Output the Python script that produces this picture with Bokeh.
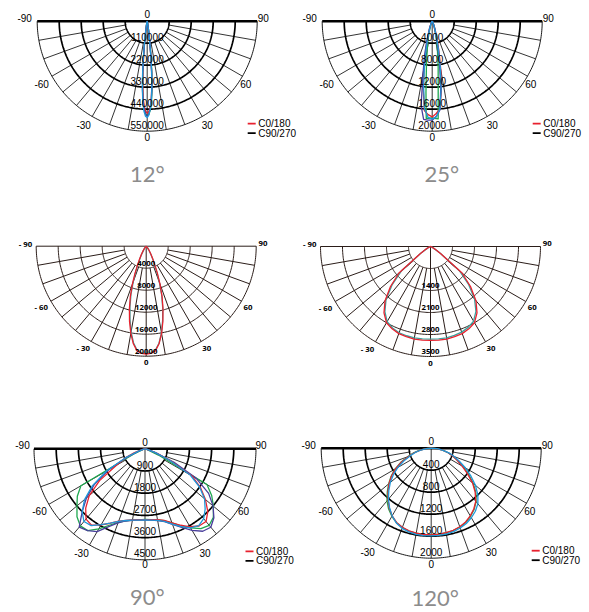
import numpy as np
from bokeh.plotting import figure
from bokeh.models import Range1d
from bokeh.embed import file_html
from bokeh.resources import INLINE
from bokeh.core.properties import value

# ---------------- data (intensity, cd, vs angle in degrees) ----------------
# 12 deg beam
ANG12 = [-90, -30, -20, -15, -10, -8, -7, -6, -5, -4, -3, -2, -1, 0,
         1, 2, 3, 4, 5, 6, 7, 8, 10, 15, 20, 30, 90]
I12_GREEN = [0, 350, 1500, 5200, 23000, 62000, 105000, 172000, 250000, 330000, 395000, 438000, 462000, 470000,
             465000, 445000, 405000, 345000, 270000, 185000, 115000, 66000, 25000, 5500, 2000, 450, 0]
I12_RED = [0, 400, 1600, 5000, 22000, 58000, 100000, 165000, 245000, 320000, 385000, 425000, 450000, 460000,
           452000, 428000, 390000, 330000, 255000, 175000, 110000, 62000, 24000, 5500, 1900, 400, 0]
I12_BLUE = [0, 400, 1800, 6000, 25000, 65000, 110000, 180000, 260000, 340000, 400000, 440000, 465000, 475000,
            465000, 435000, 395000, 330000, 250000, 170000, 105000, 60000, 22000, 5000, 1800, 400, 0]
I12_CYAN = [0, 420, 1900, 6200, 26000, 68000, 115000, 185000, 265000, 345000, 410000, 452000, 475000, 482000,
            470000, 440000, 398000, 335000, 255000, 172000, 106000, 61000, 22000, 5000, 1700, 380, 0]
RING12 = ["110000", "220000", "330000", "440000", "550000"]

# 25 deg beam
ANG25 = [-90, -40, -30, -25, -20, -15, -12.5, -10, -7.5, -5, -2.5, 0,
         2.5, 5, 7.5, 10, 12.5, 15, 20, 25, 30, 40, 90]
ANG25_GREEN = [-90, -40, -30, -25, -20, -15, -12.5, -10, -7.5, -5, -3.5, 0,
               3.5, 5, 7.5, 10, 12.5, 15, 20, 25, 30, 40, 90]
I25_GREEN = [0, 50, 200, 400, 900, 2200, 3500, 5200, 8000, 13000, 17700, 17600,
             17800, 12500, 8300, 5500, 3800, 2400, 1000, 400, 200, 50, 0]
I25_RED = [0, 100, 300, 600, 1400, 3500, 5500, 8500, 12500, 16300, 17000, 17400,
           16800, 16000, 12800, 9000, 5800, 3600, 1500, 600, 300, 80, 0]
I25_BLUE = [0, 50, 300, 600, 1500, 4000, 6500, 9500, 15500, 17900, 18000, 18000,
            17300, 16200, 12000, 7500, 4500, 2500, 1000, 400, 200, 50, 0]
I25_CYAN = [0, 60, 250, 500, 1200, 3000, 5000, 8000, 12000, 16000, 17500, 17800,
            17400, 16000, 12500, 8500, 5200, 3200, 1300, 500, 250, 60, 0]
RING25 = ["4000", "8000", "12000", "16000", "20000"]

# middle-left beam
ANG_ML = [-90, -50, -40, -35, -30, -27.5, -25, -22.5, -20, -17.5, -15, -12.5, -10, -7.5, -5, -2.5, 0,
          2.5, 5, 7.5, 10, 12.5, 15, 17.5, 20, 22.5, 25, 27.5, 30, 35, 40, 50, 90]
IML_RED = [0, 100, 400, 900, 1800, 2600, 3600, 5300, 7300, 9600, 11800, 14000, 16100, 17900, 19100, 19500, 19600,
           19500, 19100, 17900, 16100, 14000, 11800, 9600, 7300, 5300, 3600, 2600, 1800, 900, 400, 100, 0]
IML_TEAL = [0, 80, 300, 700, 1500, 2300, 3200, 4900, 6900, 9200, 11400, 13600, 15800, 17700, 19000, 19400, 19500,
            19400, 19000, 17800, 16000, 13800, 11600, 9400, 7000, 5000, 3300, 2400, 1600, 750, 320, 80, 0]
RING_ML = ["4000", "8000", "12000", "16000", "20000"]

# 5-degree grid used by the wide beams
ANG5 = [-90, -85, -80, -75, -70, -65, -60, -55, -50, -45, -40, -35, -30, -25, -20, -15, -10, -5, 0,
        5, 10, 15, 20, 25, 30, 35, 40, 45, 50, 55, 60, 65, 70, 75, 80, 85, 90]

# middle-right beam
IMR_RED = [0, 0, 0, 10, 30, 60, 150, 400, 1300, 1800, 2250, 2580, 2800, 2890, 2950, 2970, 2990, 2990, 2990,
           2990, 2990, 2970, 2950, 2890, 2800, 2580, 2250, 1800, 1300, 400, 150, 60, 30, 10, 0, 0, 0]
IMR_TEAL = [0, 0, 0, 10, 30, 50, 120, 380, 1200, 1730, 2200, 2530, 2760, 2860, 2920, 2940, 2950, 2950, 2950,
            2950, 2950, 2930, 2900, 2840, 2740, 2520, 2180, 1720, 1200, 380, 120, 50, 30, 10, 0, 0, 0]
RING_MR = ["", "1400", "2100", "2800", "3500"]

# 90 deg beam
I90_GREEN = [0, 0, 0, 0, 100, 500, 3000, 3350, 3600, 3900, 4080, 4050, 3750, 3420, 3170, 3020, 2940, 2890, 2860,
             2880, 2930, 3020, 3200, 3450, 3700, 3950, 4050, 3920, 3620, 3300, 2900, 600, 100, 0, 0, 0, 0]
I90_PURPLE = [0, 0, 0, 50, 250, 800, 1700, 2500, 3100, 3600, 4150, 4050, 3880, 3480, 3200, 3030, 2950, 2900, 2880,
              2900, 2960, 3060, 3260, 3520, 3820, 4080, 4150, 3950, 3600, 3150, 2400, 1300, 400, 80, 0, 0, 0]
I90_RED = [0, 0, 30, 150, 450, 900, 1350, 2250, 2950, 3400, 3720, 3780, 3560, 3330, 3120, 3000, 2930, 2890, 2870,
           2880, 2920, 3000, 3200, 3420, 3650, 3820, 3850, 3600, 3200, 2750, 2200, 1150, 500, 150, 30, 0, 0]
I90_CYAN = [0, 0, 0, 80, 300, 900, 1800, 2600, 3200, 3600, 3850, 3800, 3550, 3320, 3130, 3010, 2940, 2900, 2880,
            2900, 2950, 3050, 3250, 3480, 3700, 3800, 3700, 3450, 3150, 2700, 2100, 1100, 450, 120, 20, 0, 0]
RING90 = ["900", "1800", "2700", "3600", "4500"]

# 120 deg beam
I120_GREEN = [0, 100, 210, 330, 450, 610, 760, 890, 1010, 1130, 1250, 1350, 1430, 1495, 1535, 1560, 1570, 1575, 1575,
              1570, 1565, 1550, 1525, 1490, 1430, 1360, 1270, 1150, 1000, 830, 670, 530, 420, 320, 210, 100, 0]
I120_RED = [0, 100, 200, 320, 440, 600, 750, 880, 1000, 1110, 1220, 1330, 1420, 1490, 1530, 1555, 1570, 1575, 1575,
            1570, 1560, 1545, 1520, 1480, 1420, 1350, 1260, 1130, 980, 800, 650, 520, 420, 320, 210, 100, 0]
I120_CYAN = [0, 90, 190, 300, 410, 550, 700, 840, 970, 1090, 1210, 1320, 1420, 1500, 1550, 1575, 1590, 1595, 1595,
             1590, 1585, 1570, 1545, 1510, 1460, 1400, 1320, 1200, 1050, 880, 720, 570, 450, 340, 220, 110, 0]
RING120 = ["400", "800", "1200", "1600", "2000"]

TITLES = ["12°", "25°", "90°", "120°"]
LEGEND = ["C0/180", "C90/270"]

# ---------------- style ----------------
RED = "#e8212e"
GREEN = "#1fa84f"
PURPLE = "#4a3f9c"
CYAN = "#1f97d9"
TEAL = "#3aa39f"
FONT_A = value("Liberation Sans")
FONT_B = value("Open Sans")

W, H = 588, 611
p = figure(width=W, height=H, output_backend="svg", toolbar_location=None,
           x_range=Range1d(0, W), y_range=Range1d(H, 0),
           x_axis_location=None, y_axis_location=None, min_border=0,
           background_fill_color="white", border_fill_color="white")
p.grid.visible = False
p.outline_line_color = None


def polar(cx, cy, R, vmax, ang, vals):
    th = np.radians(np.asarray(ang, dtype=float))
    r = np.asarray(vals, dtype=float) / vmax * R
    return cx + r * np.sin(th), cy + r * np.cos(th)


def draw_grid(cx, cy, R, style):
    if style == "a":
        col, ring_w, rad_w, top_w = "#000000", [1.7, 1.7, 1.7, 1.7, 0.9], 0.8, 2.4
    else:
        col, ring_w, rad_w, top_w = "#2b1d19", [1.0] * 5, 1.0, 1.0
    t = np.radians(np.linspace(-90, 90, 181))
    for k in range(1, 6):
        r = R * k / 5
        p.line(cx + r * np.sin(t), cy + r * np.cos(t), line_color=col, line_width=ring_w[k - 1])
    xs, ys = [], []
    for a in range(-80, 90, 10):
        th = np.radians(a)
        r0 = 0 if a == 0 else R / 5
        xs.append([cx + r0 * np.sin(th), cx + R * np.sin(th)])
        ys.append([cy + r0 * np.cos(th), cy + R * np.cos(th)])
    p.multi_line(xs, ys, line_color=col, line_width=rad_w)
    p.line([cx - R, cx + R], [cy, cy], line_color=col, line_width=top_w)


def txt(x, y, s, font, size, align="center", color="black", bold=False, baseline="middle"):
    p.text(x=list(x), y=list(y), text=list(s), text_font=font, text_font_size=size,
           text_align=align, text_baseline=baseline, text_color=color,
           text_font_style="bold" if bold else "normal")


def panel(cx, cy, R, vmax, series, rings, style, legend=False, title=None, title_pos=None):
    draw_grid(cx, cy, R, style)
    for ang, vals, col in series:
        x, y = polar(cx, cy, R, vmax, ang, vals)
        p.line(x, y, line_color=col, line_width=1.3, line_join="round")
    # ring labels
    off = 6.5 if style == "a" else 5.0
    rx, ry, rs = [], [], []
    for k, lab in enumerate(rings, 1):
        if lab:
            rx.append(cx)
            ry.append(cy + R * k / 5 - off)
            rs.append(lab)
    if style == "a":
        txt(rx, ry, rs, FONT_A, "10px")
        labs = ["-90", "90", "0", "-60", "60", "-30", "30", "0"]
        offs = [(-122.5, -3.5), (116, -3.5), (0, -7), (-105.5, 62.5), (98.5, 62.5),
                (-63.5, 104), (60, 104), (0, 115.5)]
        txt([cx + o[0] for o in offs], [cy + o[1] for o in offs], labs, FONT_A, "10px")
    else:
        txt(rx, ry, rs, FONT_B, "7.8px", bold=True)
        labs = ["- 90", "90", "- 60", "60", "- 30", "30", "0"]
        offs = [(-120.7, -2.7), (116.8, -2.7), (-105, 61), (101.8, 61),
                (-63, 102), (60.5, 102), (0, 116.7)]
        txt([cx + o[0] for o in offs], [cy + o[1] for o in offs], labs, FONT_B, "7.8px", bold=True)
    if legend:
        p.segment(x0=[cx + 100.5, cx + 100.5], y0=[cy + 102.5, cy + 112],
                  x1=[cx + 108.5, cx + 108.5], y1=[cy + 102.5, cy + 112],
                  line_color=[RED, "black"], line_width=1.8)
        txt([cx + 111, cx + 111], [cy + 102.5, cy + 112], LEGEND, FONT_A, "10px", align="left")
    if title:
        txt([title_pos[0]], [title_pos[1]], [title], value("Lato"), "22px",
            color="#8c8c8c", baseline="middle")


panel(146.7, 20.7, 110, 550000,
      [(ANG12, I12_GREEN, GREEN), (ANG12, I12_RED, RED), (ANG12, I12_BLUE, PURPLE), (ANG12, I12_CYAN, CYAN)],
      RING12, "a", legend=True, title=TITLES[0], title_pos=(146.7, 173.0))
panel(431.7, 20.7, 110, 20000,
      [(ANG25_GREEN, I25_GREEN, GREEN), (ANG25, I25_RED, RED), (ANG25, I25_BLUE, PURPLE), (ANG25, I25_CYAN, CYAN)],
      RING25, "a", legend=True, title=TITLES[1], title_pos=(441.2, 172.5))
panel(145.7, 245.7, 110, 20000,
      [(ANG_ML, IML_TEAL, TEAL), (ANG_ML, IML_RED, RED)],
      RING_ML, "b")
panel(430.0, 246.0, 110, 3500,
      [(ANG5, IMR_TEAL, TEAL), (ANG5, IMR_RED, RED)],
      RING_MR, "b")
panel(144.5, 448.3, 111, 4500,
      [(ANG5, I90_GREEN, GREEN), (ANG5, I90_PURPLE, PURPLE), (ANG5, I90_RED, RED), (ANG5, I90_CYAN, CYAN)],
      RING90, "a", legend=True, title=TITLES[2], title_pos=(146.7, 595.5))
panel(430.7, 447.7, 110, 2000,
      [(ANG5, I120_GREEN, GREEN), (ANG5, I120_RED, RED), (ANG5, I120_CYAN, CYAN)],
      RING120, "a", legend=True, title=TITLES[3], title_pos=(434.7, 596.5))

open("out.html", "w").write(file_html(p, INLINE))
